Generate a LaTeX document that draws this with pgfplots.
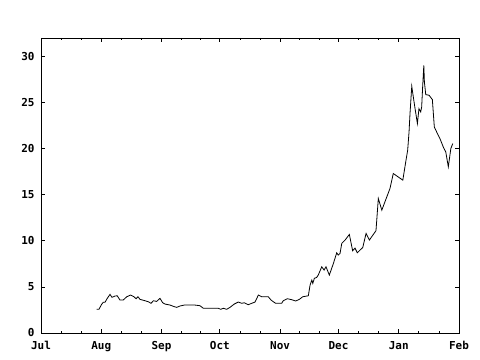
\documentclass[border=0pt]{standalone}
\usepackage{pgfplots}
\pgfplotsset{compat=1.18}
\usepackage{fontspec}
\setmainfont{DejaVu Sans Mono}
\begin{document}
\begin{tikzpicture}
\begin{axis}[name=ax,
  scale only axis, width=418bp, height=295bp,
  xmin=0, xmax=215, ymin=0, ymax=32,
  xtick={0,31,62,92,123,153,184,215},
  xticklabels={Jul,Aug,Sep,Oct,Nov,Dec,Jan,Feb},
  minor xtick={10.33,20.67,41.33,51.67,72,82,102.33,112.67,133,143,163.33,173.67,194.33,204.67},
  ytick={0,5,10,15,20,25,30},
  tick align=inside, major tick length=4bp, minor tick length=2.3bp,
  tick style={black, line width=0.8pt},
  axis line style={black, line width=0.9pt},
  /pgf/number format/assume math mode=true,
  tick label style={font=\fontsize{11}{13}\selectfont\bfseries},
  yticklabel style={xshift=-3bp},
  xticklabel style={yshift=-4.5bp},
]
\addplot[black, line width=0.8pt, mark=none] coordinates {
(28.65,2.57)(29.8,2.57)(31.2,3.11)(32.0,3.33)(32.9,3.33)(34.1,3.76)(35.5,4.19)(36.5,3.87)
(38.1,4.01)(39.2,4.04)(40.6,3.58)(42.3,3.58)(44.1,3.93)(46.1,4.12)(47.8,3.93)(48.9,3.72)
(49.9,3.93)(50.9,3.65)(53.5,3.50)(55.2,3.39)(56.6,3.22)(57.8,3.50)(59.5,3.43)(61.2,3.76)
(62.6,3.28)(63.8,3.14)(66.4,3.03)(68.1,2.89)(69.8,2.78)(71.5,2.93)(73.7,3.03)(76.3,3.03)
(79.2,3.03)(81.8,2.96)(83.5,2.68)(86.1,2.68)(91.2,2.68)(92.4,2.57)(93.8,2.68)(95.5,2.57)
(97.2,2.78)(99.4,3.14)(101.5,3.36)(103.2,3.22)(104.6,3.28)(106.6,3.07)(108.4,3.22)(110.1,3.36)
(111.8,4.12)(113.5,3.93)(116.9,3.93)(118.3,3.58)(119.5,3.39)(120.7,3.22)(123.8,3.22)(124.6,3.50)
(126.7,3.72)(129.0,3.61)(131.0,3.47)(132.9,3.65)(134.6,3.93)(137.5,4.04)(138.4,5.20)(139.3,5.74)
(139.8,5.38)(140.6,5.93)(141.8,6.03)(142.6,6.28)(144.4,7.18)(145.6,6.83)(146.6,7.18)(148.3,6.28)
(150.4,7.55)(152.1,8.70)(152.9,8.45)(153.8,8.63)(154.7,9.72)(156.4,10.08)(158.6,10.69)(160.3,8.92)
(161.5,9.21)(162.7,8.70)(165.5,9.28)(167.2,10.80)(168.9,10.08)(172.3,11.10)(173.5,14.59)(175.3,13.33)
(179.5,15.68)(181.2,17.30)(186.1,16.58)(187.6,18.56)(188.6,19.83)(189.3,21.81)(189.8,23.80)(190.7,26.76)
(191.5,25.60)(192.4,24.34)(193.6,22.72)(194.4,24.34)(195.3,23.98)(195.8,24.52)(196.3,26.69)(196.9,29.04)
(197.2,27.23)(197.9,25.86)(199.6,25.79)(201.3,25.32)(202.3,22.35)(203.5,21.81)(205.2,21.09)(206.9,20.18)
(208.2,19.64)(209.5,18.02)(210.8,20.01)(211.8,20.55)
};
\end{axis}
\pgfresetboundingbox
\path[use as bounding box] ([xshift=-41bp,yshift=-27bp]ax.south west) rectangle ([xshift=21bp,yshift=38bp]ax.north east);
\end{tikzpicture}
\end{document}
